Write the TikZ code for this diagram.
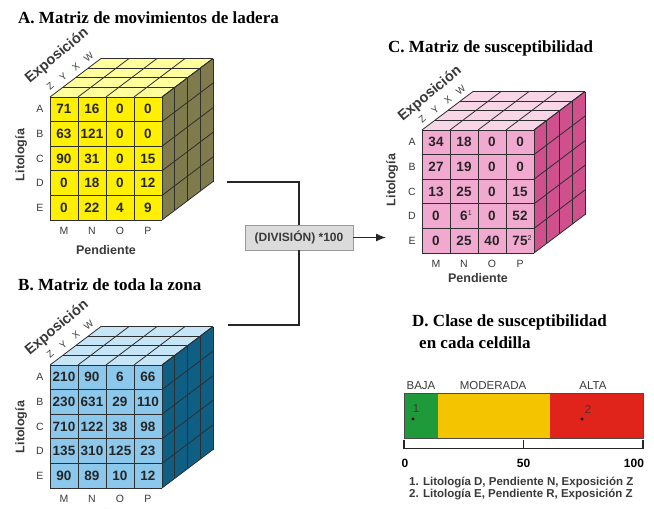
\documentclass[tikz,border=0pt]{standalone}
\usepackage{fontspec}
\setmainfont{Liberation Serif}
\setsansfont{Liberation Sans}
\usetikzlibrary{arrows.meta}
\definecolor{yfront}{HTML}{FFEF00}
\definecolor{ytop}{HTML}{FFFF9C}
\definecolor{yside}{HTML}{7F7B4C}
\definecolor{bfront}{HTML}{8CC8EC}
\definecolor{btop}{HTML}{C6E6F8}
\definecolor{bside}{HTML}{0F5F85}
\definecolor{pfront}{HTML}{F2A9D0}
\definecolor{ptop}{HTML}{F9D5E8}
\definecolor{pside}{HTML}{D0508E}
\definecolor{gridc}{HTML}{2E2E2E}
\definecolor{txtc}{HTML}{3A3A3A}
\definecolor{barg}{HTML}{1E9A3A}
\definecolor{bary}{HTML}{F5C400}
\definecolor{barr}{HTML}{E0241B}
\newcommand{\cubeframe}[3]{%
  \fill[#1] (0,0) rectangle (112,123);
  \fill[#2] (0,0) -- (112,0) -- (163,-38.5) -- (51,-38.5) -- cycle;
  \fill[#3] (112,0) -- (112,123) -- (163,84.5) -- (163,-38.5) -- cycle;
  \foreach \i in {0,...,4} {
    \draw[gridline] ({28*\i},0) -- ({28*\i},123);
    \draw[gridline] ({28*\i},0) -- ++(51,-38.5);
    \draw[gridline] ({12.75*\i},{-9.625*\i}) -- ++(112,0);
    \draw[gridline] ({112+12.75*\i},{-9.625*\i}) -- ++(0,123);
  }
  \foreach \j in {0,...,5} {
    \draw[gridline] (0,{24.6*\j}) -- (112,{24.6*\j});
    \draw[gridline] (112,{24.6*\j}) -- ++(51,-38.5);
  }
}
\newcommand{\cellrow}[3]{%
  \foreach \v [count=\c] in {#3} \node[cellnum] (#1-#2-\c) at ({28*\c-14},{24.6*#2-12.3}) {\v};
}
\newcommand{\cubelabels}[1]{%
  \foreach \r [count=\k] in {A,B,C,D,E} \node[rowlab] (#1-row\k) at (-10,{24.6*\k-12.3}) {\r};
  \foreach \m [count=\k] in {M,N,O,P} \node[rowlab] (#1-col\k) at ({28*\k-14},134) {\m};
  \foreach \e [count=\k] in {Z,Y,X,W} \node[explab] (#1-exp\k) at ({12.75*\k-6.4-6},{-9.625*\k+4.8-6}) {\e};
}
\newcommand{\supnum}[2]{#1\rlap{\raisebox{5pt}{\fontsize{7}{7}\selectfont\mdseries #2}}}
\begin{document}
\begin{tikzpicture}[x=1pt,y=-1pt,
  gridline/.style={draw=gridc,line width=0.8pt},
  cellnum/.style={font=\sffamily\bfseries\fontsize{13.5}{14}\selectfont,text=black!85,inner sep=0pt},
  rowlab/.style={font=\sffamily\fontsize{10.5}{11}\selectfont,text=txtc,inner sep=0pt},
  explab/.style={font=\sffamily\fontsize{9.5}{9.5}\selectfont,text=txtc,inner sep=0pt,rotate=40},
  axtitle/.style={font=\sffamily\bfseries\fontsize{12.5}{13}\selectfont,text=txtc,inner sep=0pt},
  exptitle/.style={font=\sffamily\bfseries\fontsize{14.5}{15}\selectfont,text=txtc,inner sep=0pt,rotate=40},
  title/.style={font=\bfseries\fontsize{17}{19}\selectfont,anchor=west,inner sep=0pt},
  conn/.style={draw=black!85,line width=1.3pt},
  divbox/.style={draw=black!40,fill=black!14,line width=0.8pt,minimum width=108pt,minimum height=25pt,inner sep=0pt,font=\sffamily\bfseries\fontsize{12}{12}\selectfont,text=txtc},
  barlab/.style={font=\sffamily\fontsize{11.5}{12}\selectfont,text=txtc,inner sep=0pt},
  ticklab/.style={font=\sffamily\bfseries\fontsize{12}{12}\selectfont,inner sep=0pt},
  note/.style={font=\sffamily\bfseries\fontsize{11.5}{12}\selectfont,text=txtc,inner sep=0pt,anchor=west}
]
\useasboundingbox (0,0) rectangle (654,509);
\fill[white] (0,0) rectangle (654,509);

% ---------- titles
\node[title] (ta) at (18,18) {A. Matriz de movimientos de ladera};
\node[title] (tb) at (18,285) {B. Matriz de toda la zona};
\node[title] (tc) at (388,48) {C. Matriz de susceptibilidad};
\node[title] (td) at (412,322) {D. Clase de susceptibilidad};
\node[title] (td2) at (419,343) {en cada celdilla};

% ---------- cube A
\begin{scope}[shift={(50,97)}]
  \cubeframe{yfront}{ytop}{yside}
  \cellrow{a}{1}{71,16,0,0}
  \cellrow{a}{2}{63,121,0,0}
  \cellrow{a}{3}{90,31,0,15}
  \cellrow{a}{4}{0,18,0,12}
  \cellrow{a}{5}{0,22,4,9}
  \cubelabels{a}
  \node[axtitle,rotate=90] (a-lit) at (-29,58) {Litología};
  \node[axtitle] (a-pend) at (56,153) {Pendiente};
  \node[exptitle] (a-exp) at (7,-41) {Exposición};
  \coordinate (a-out) at (177,85);
\end{scope}

% ---------- cube B
\begin{scope}[shift={(50,365)}]
  \cubeframe{bfront}{btop}{bside}
  \cellrow{b}{1}{210,90,6,66}
  \cellrow{b}{2}{230,631,29,110}
  \cellrow{b}{3}{710,122,38,98}
  \cellrow{b}{4}{135,310,125,23}
  \cellrow{b}{5}{90,89,10,12}
  \cubelabels{b}
  \node[axtitle,rotate=90] (b-lit) at (-29,62) {Litología};
  \node[axtitle] (b-pend) at (56,149) {Pendiente};
  \node[exptitle] (b-exp) at (7,-37) {Exposición};
  \coordinate (b-out) at (178,-40);
\end{scope}

% ---------- cube C
\begin{scope}[shift={(422,130)}]
  \cubeframe{pfront}{ptop}{pside}
  \cellrow{c}{1}{34,18,0,0}
  \cellrow{c}{2}{27,19,0,0}
  \cellrow{c}{3}{13,25,0,15}
  \cellrow{c}{4}{0,{\supnum{6}{1}},0,52}
  \cellrow{c}{5}{0,25,40,{\supnum{75}{2}}}
  \cubelabels{c}
  \node[axtitle,rotate=90] (c-lit) at (-30,50) {Litología};
  \node[axtitle] (c-pend) at (56,148) {Pendiente};
  \node[exptitle] (c-exp) at (8,-36) {Exposición};
  \coordinate (c-in) at (-36,107.5);
\end{scope}

% ---------- connectors
\node[divbox] (div) at (299,237.5) {(DIVISIÓN) *100};
\draw[conn] (a-out) -| (div.north);
\draw[conn] (b-out) -| (div.south);
\draw[conn,-{Latex[length=10pt,width=8pt]}] (div.east) -- (c-in);

% ---------- D bar
\fill[barg] (404,393) rectangle (438,438);
\fill[bary] (438,393) rectangle (550,438);
\fill[barr] (550,393) rectangle (643,438);
\draw[black!70,line width=0.5pt] (404,393) rectangle (643,438);
\draw[black!85,line width=1.2pt] (404,448.5) -- (643,448.5);
\foreach \t in {404,523.5,643} \draw[black!85,line width=1.2pt] (\t,440) -- (\t,449.1);
\node[barlab] (lbaja) at (421,386) {BAJA};
\node[barlab] (lmod) at (493,386) {MODERADA};
\node[barlab] (lalta) at (593,386) {ALTA};
\fill[black] (413,419) circle (1.6pt);
\fill[black] (582,419) circle (1.6pt);
\node[barlab] (p1) at (416,409) {1};
\node[barlab] (p2) at (588,409) {2};
\node[ticklab] (t0) at (405,463) {0};
\node[ticklab] (t50) at (523.5,463) {50};
\node[ticklab] (t100) at (634,463) {100};
\node[note] (n1) at (409,482) {1. Litología D, Pendiente N, Exposición Z};
\node[note] (n2) at (409,494) {2. Litología E, Pendiente R, Exposición Z};
\end{tikzpicture}
\end{document}
